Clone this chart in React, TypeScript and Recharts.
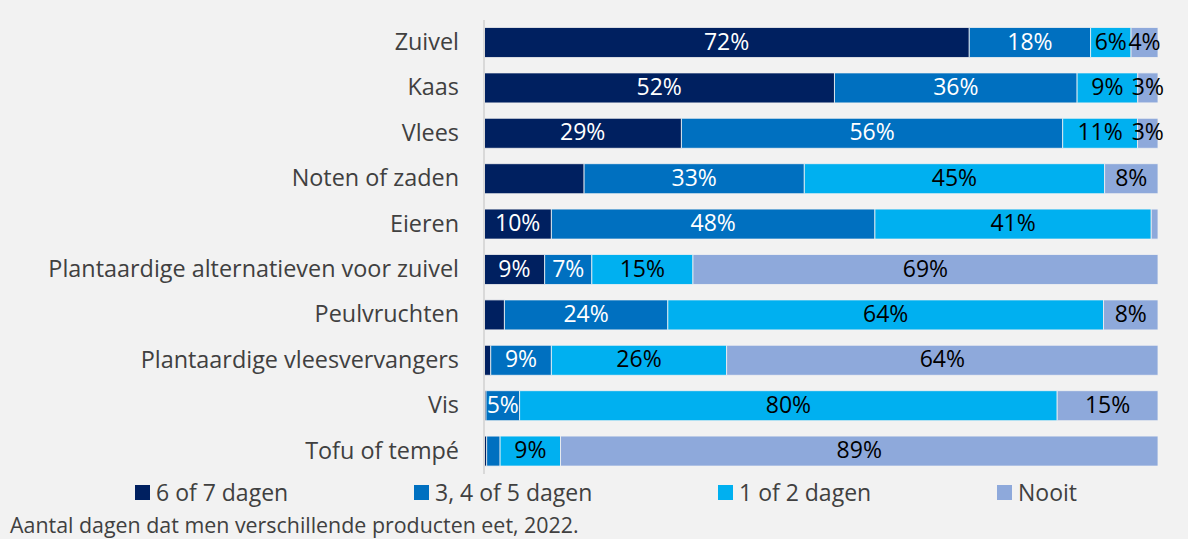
import React from "react";
import { BarChart, Bar, XAxis, YAxis, LabelList } from "recharts";

const categories = [
  "Zuivel",
  "Kaas",
  "Vlees",
  "Noten of zaden",
  "Eieren",
  "Plantaardige alternatieven voor zuivel",
  "Peulvruchten",
  "Plantaardige vleesvervangers",
  "Vis",
  "Tofu of tempé",
];

const seriesNames = ["6 of 7 dagen", "3, 4 of 5 dagen", "1 of 2 dagen", "Nooit"];
const sixOrSeven = [72, 52, 29, 15, 10, 9, 3, 1, 0.3, 0.4];
const threeToFive = [18, 36, 56, 33, 48, 7, 24, 9, 5, 2];
const oneOrTwo = [6, 9, 11, 45, 41, 15, 64, 26, 80, 9];
const never = [4, 3, 3, 8, 1, 69, 8, 64, 15, 89];

// labels that are not printed in the original
const hiddenLabels: Record<string, string[]> = {
  s1: ["Noten of zaden", "Peulvruchten", "Plantaardige vleesvervangers", "Vis", "Tofu of tempé"],
  s2: ["Tofu of tempé"],
  s3: [],
  s4: ["Eieren"],
};

const colors = ["#002060", "#0070C0", "#00B0F0", "#8EA9DB"];
const labelColors = ["#ffffff", "#ffffff", "#000000", "#000000"];
const legendLeft = [135, 414, 718, 997];
const FONT = "'Open Sans', sans-serif";
const FS = 23.4;

const data = categories.map((name, i) => ({
  name,
  s1: sixOrSeven[i],
  s2: threeToFive[i],
  s3: oneOrTwo[i],
  s4: never[i],
}));

const makeLabel = (key: string, color: string) => (props: any) => {
  const { x, y, width, height, value, index } = props;
  if (hiddenLabels[key].includes(categories[index])) return null;
  return (
    <text
      x={x + width / 2}
      y={y + height / 2 + 1}
      textAnchor="middle"
      dominantBaseline="middle"
      fill={color}
      fontSize={23}
      fontFamily={FONT}
    >
      {`${value}%`}
    </text>
  );
};

const CategoryTick = (props: any) => {
  const { x, y, payload } = props;
  return (
    <text x={x} y={y + 1} textAnchor="end" dominantBaseline="middle" fill="#404040" fontSize={FS} fontFamily={FONT}>
      {payload.value}
    </text>
  );
};

export default function App() {
  const keys = ["s1", "s2", "s3", "s4"];
  return (
    <div
      style={{
        position: "fixed",
        top: 0,
        left: 0,
        width: 1188,
        height: 539,
        background: "#F2F2F2",
        overflow: "hidden",
      }}
    >
      <BarChart
        width={1188}
        height={539}
        data={data}
        layout="vertical"
        stackOffset="expand"
        barCategoryGap="16.5%"
        margin={{ top: 20, right: 30, bottom: 65, left: 0 }}
      >
        <XAxis type="number" hide domain={[0, 1]} />
        <YAxis
          type="category"
          dataKey="name"
          width={484}
          tickLine={false}
          axisLine={{ stroke: "#D9D9D9", strokeWidth: 2 }}
          tick={<CategoryTick />}
          tickMargin={19}
          interval={0}
        />
        {keys.map((k, i) => (
          <Bar
            key={k}
            dataKey={k}
            name={seriesNames[i]}
            stackId="a"
            fill={colors[i]}
            stroke="#F2F2F2"
            strokeWidth={0.8}
            isAnimationActive={false}
          >
            <LabelList dataKey={k} content={makeLabel(k, labelColors[i])} />
          </Bar>
        ))}
      </BarChart>
      {seriesNames.map((s, i) => (
        <div
          key={s}
          style={{
            position: "absolute",
            left: legendLeft[i],
            top: 478,
            height: 28,
            lineHeight: "28px",
            display: "flex",
            alignItems: "center",
            fontFamily: FONT,
            fontSize: 23,
            color: "#404040",
            whiteSpace: "nowrap",
          }}
        >
          <span style={{ width: 15, height: 15, background: colors[i], display: "inline-block", marginRight: 6 }} />
          <span>{s}</span>
        </div>
      ))}
      <div
        style={{
          position: "absolute",
          left: 10,
          top: 514,
          lineHeight: 1,
          fontFamily: FONT,
          fontSize: 21.4,
          color: "#404040",
          whiteSpace: "nowrap",
        }}
      >
        Aantal dagen dat men verschillende producten eet, 2022.
      </div>
    </div>
  );
}
